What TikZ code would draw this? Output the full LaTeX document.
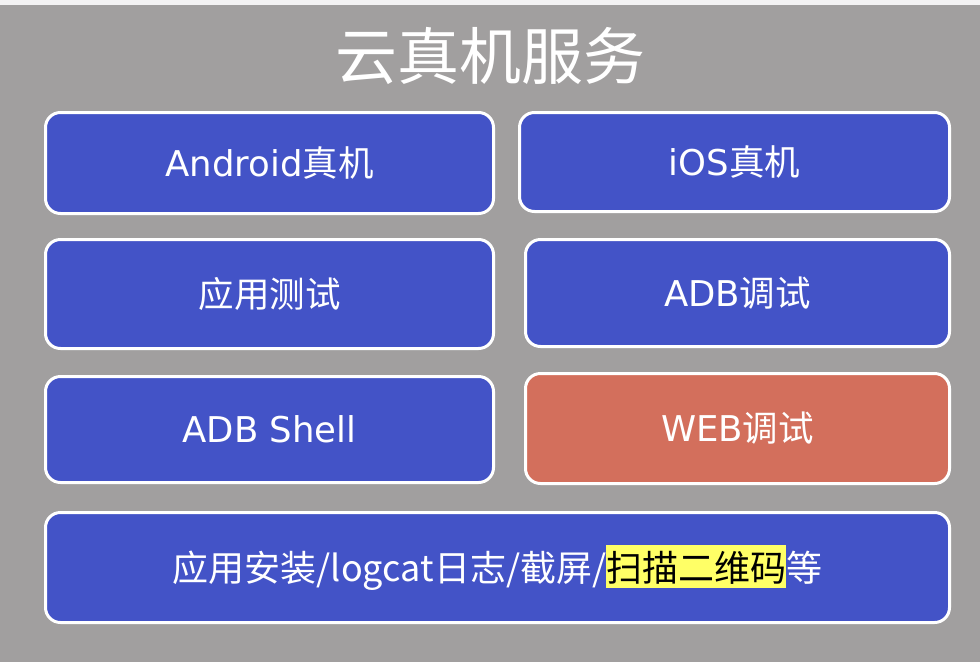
\documentclass[tikz,border=0pt]{standalone}
\usepackage{fontspec}
\setmainfont{DejaVu Sans}
\newfontfamily\cjk{Noto Sans CJK SC}
\definecolor{bggray}{HTML}{A19F9F}
\definecolor{topstrip}{HTML}{F3F2F3}
\definecolor{boxblue}{HTML}{4353C7}
\definecolor{boxred}{HTML}{D36F5C}
\definecolor{hl}{HTML}{FFFF66}
\tikzset{
  card/.style={rectangle, rounded corners=15pt, draw=white, line width=3pt,
    fill=boxblue, text=white, inner sep=0pt,
    font=\fontsize{35.5}{42}\selectfont},
  cardred/.style={card, fill=boxred},
}
\begin{document}
\begin{tikzpicture}[x=1pt,y=-1pt]
\fill[bggray] (0,0) rectangle (980,662);
\fill[topstrip] (0,0) rectangle (980,5);
\useasboundingbox (0,0) rectangle (980,662);
\node[text=white, font=\cjk\fontsize{62}{70}\selectfont] (title) at (490,56) {云真机服务};
\node[card, minimum width=448pt, minimum height=101pt] (android) at (269.5,163) {Android{\cjk 真机}};
\node[card, minimum width=430pt, minimum height=99pt] (ios) at (734.5,162) {iOS{\cjk 真机}};
\node[card, minimum width=448pt, minimum height=109pt] (apptest) at (269.5,294) {\cjk 应用测试};
\node[card, minimum width=424pt, minimum height=107pt] (adbdebug) at (737.5,293) {ADB{\cjk 调试}};
\node[card, minimum width=448pt, minimum height=106pt] (adbshell) at (269.5,429.5) {ADB Shell};
\node[cardred, minimum width=424pt, minimum height=110pt] (webdebug) at (737.5,428.5) {WEB{\cjk 调试}};
\node[card, minimum width=904pt, minimum height=110pt, font=\cjk\fontsize{36}{42}\selectfont] (bottom) at (497.5,567.5)
  {应用安装/logcat日志/截屏/{\setlength{\fboxsep}{0pt}\colorbox{hl}{\color{black}\rule[-0.2em]{0pt}{1.2em}扫描二维码}}等};
\end{tikzpicture}
\end{document}
